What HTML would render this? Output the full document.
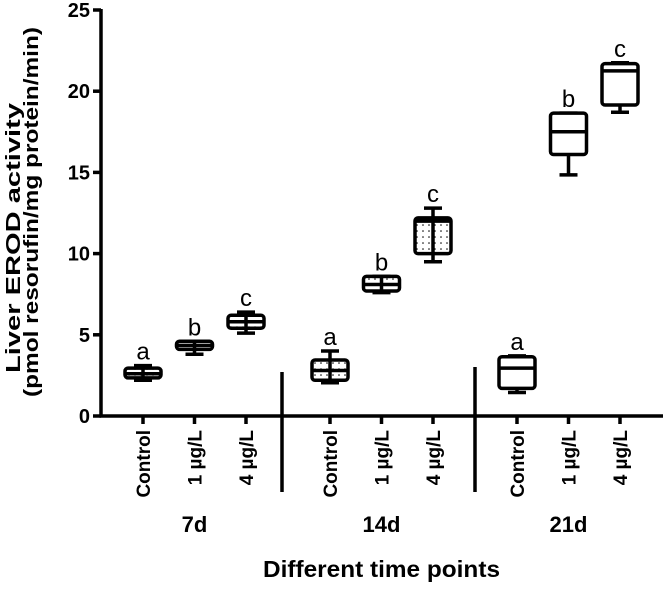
<!DOCTYPE html>
<html><head><meta charset="utf-8"><style>
body{margin:0;background:#fff}
svg text{font-family:"Liberation Sans",Arial,sans-serif}
</style></head><body>
<svg id="chart" width="665" height="584" viewBox="0 0 665 584" xmlns="http://www.w3.org/2000/svg">
<defs><pattern id="dots" width="6" height="6" patternUnits="userSpaceOnUse"><circle cx="3" cy="3" r="0.8" fill="#000"/></pattern></defs>
<g id="plot"></g>
</svg>
<script>
const categories=["Control","1 µg/L","4 µg/L","Control","1 µg/L","4 µg/L","Control","1 µg/L","4 µg/L"];
const groups=["7d","14d","21d"];
const minVals=[2.2,3.8,5.1,2.05,7.6,9.5,1.45,14.85,18.7];
const q1Vals=[2.35,4.1,5.4,2.2,7.7,10.0,1.7,16.1,19.15];
const medVals=[2.6,4.35,5.8,2.8,8.1,12.0,2.95,17.5,21.25];
const q3Vals=[2.95,4.6,6.2,3.45,8.6,12.2,3.65,18.65,21.7];
const maxVals=[3.1,4.6,6.4,4.0,8.6,12.8,3.7,18.65,21.75];
const letters=["a","b","c","a","b","c","a","b","c"];
const dotted=[true,true,true,true,true,true,false,false,false];
const yTicks=[0,5,10,15,20,25];

const NS="http://www.w3.org/2000/svg";
const g=document.getElementById("plot");
const x0=101,y0=416,yTop=10,ymax=25;
const Y=v=>y0-(y0-yTop)*v/ymax;
const X=i=>{const grp=Math.floor(i/3),k=i%3;return 143+grp*187+k*51.5;};
function el(tag,attrs,text){const e=document.createElementNS(NS,tag);for(const k in attrs)e.setAttribute(k,attrs[k]);if(text!=null)e.textContent=text;g.appendChild(e);return e;}
const S={stroke:"#000","stroke-width":3.5,fill:"none"};
let e;
e=el("line",{x1:x0,y1:Y(25)-1,x2:x0,y2:y0+1.5,...S});


e=el("line",{x1:x0-1.5,y1:y0,x2:663,y2:y0,...S});


yTicks.forEach(t=>{
 e=el("line",{x1:x0-8,y1:Y(t),x2:x0,y2:Y(t),...S});
 
 
 e=el("text",{x:x0-11,y:Y(t)+7,"text-anchor":"end","font-size":20,"font-weight":"bold"},t);
 
 
});
categories.forEach((c,i)=>{
 const x=X(i),w=36;
 e=el("line",{x1:x,y1:y0,x2:x,y2:y0+8,...S});
 
 
 e=el("text",{x:0,y:0,transform:`translate(${x+7},${y0+14}) rotate(-90)`,"text-anchor":"end","font-size":19,"font-weight":"bold"},c);
 
 
 e=el("line",{x1:x,y1:Y(maxVals[i]),x2:x,y2:Y(minVals[i]),...S});
 
 
 [minVals[i],maxVals[i]].forEach(v=>{
  e=el("line",{x1:x-9,y1:Y(v),x2:x+9,y2:Y(v),...S});
  
  
 });
 const yb=Y(q3Vals[i]),h=Math.max(Y(q1Vals[i])-yb,2);
 e=el("rect",{x:x-w/2,y:yb,width:w,height:h,rx:3,fill:dotted[i]?"url(#dots)":"#fff",stroke:"#000","stroke-width":3.5});
 
 
 e=el("line",{x1:x-w/2,y1:Y(medVals[i]),x2:x+w/2,y2:Y(medVals[i]),...S});
 
 
 e=el("text",{x:x,y:Y(maxVals[i])-6,"text-anchor":"middle","font-size":24},letters[i]);
 
 
});
[282,475].forEach((dx,j)=>{
 e=el("line",{x1:dx,y1:j?367:372,x2:dx,y2:492,...S});
 
 
});
groups.forEach((gname,j)=>{
 e=el("text",{x:X(j*3+1),y:532,"text-anchor":"middle","font-size":22,"font-weight":"bold"},gname);
 
 
});
e=el("text",{x:263,y:577,"font-size":23,"font-weight":"bold",textLength:237,lengthAdjust:"spacingAndGlyphs"},"Different time points");


e=el("text",{x:0,y:0,transform:"translate(20,238) rotate(-90)","text-anchor":"middle","font-size":20,"font-weight":"bold",textLength:270,lengthAdjust:"spacingAndGlyphs"},"Liver EROD activity");


e=el("text",{x:0,y:0,transform:"translate(38,212) rotate(-90)","text-anchor":"middle","font-size":20,"font-weight":"bold",textLength:370,lengthAdjust:"spacingAndGlyphs"},"(pmol resorufin/mg protein/min)");


</script>
</body></html>
